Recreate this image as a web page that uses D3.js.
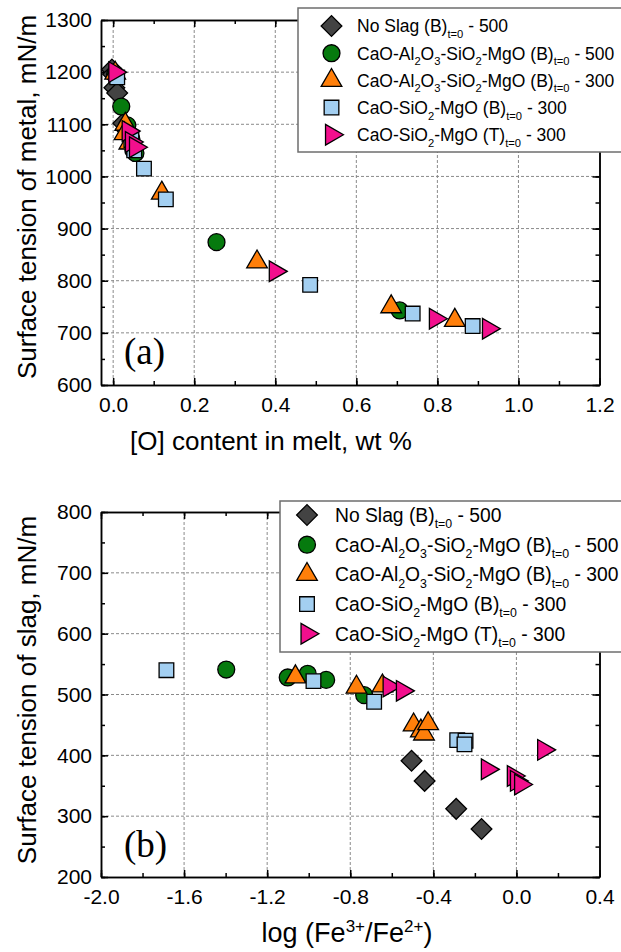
<!DOCTYPE html>
<html>
<head>
<meta charset="utf-8">
<script src="https://cdn.jsdelivr.net/npm/d3@7"></script>
<style>
  body { margin: 0; background: #fff; }
  svg { display: block; font-family: "Liberation Sans", Arial, sans-serif; }
  .grid line { stroke: #8a8a8a; stroke-width: 1; stroke-dasharray: 3,2; }
  .axis path, .axis line { stroke: #000; stroke-width: 1.5; }
  .axis text { font-size: 21px; fill: #000; }
  .mark { stroke: #000; stroke-width: 1.3; }
</style>
</head>
<body>
<div id="chart"></div>
<script>
// ---- panel (a): surface tension of metal vs [O] content, wt % ----
var metalNoSlag   = [[-0.003,1205],[0.0,1196],[0.003,1170],[0.01,1160],[0.025,1102],[0.032,1090]];
var metalCAS500   = [[0.005,1196],[0.02,1134],[0.035,1098],[0.045,1072],[0.05,1050],[0.055,1045],[0.255,874],[0.707,743]];
var metalCAS300   = [[0.005,1198],[0.03,1100],[0.028,1082],[0.04,1064],[0.12,968],[0.355,836],[0.686,750],[0.843,724]];
var metalCSM_B    = [[0.01,1190],[0.045,1070],[0.052,1050],[0.076,1015],[0.13,956],[0.486,792],[0.739,737],[0.887,713]];
var metalCSM_T    = [[0.004,1200],[0.037,1087],[0.045,1066],[0.055,1056],[0.4,818],[0.795,727],[0.926,708]];

// ---- panel (b): surface tension of slag vs log(Fe3+/Fe2+) ----
var slagNoSlag    = [[-0.505,391],[-0.442,358],[-0.29,312],[-0.168,279]];
var slagCAS500    = [[-1.397,541],[-1.101,528],[-1.005,534],[-0.916,524],[-0.733,499]];
var slagCAS300    = [[-1.064,529],[-0.77,512],[-0.645,514],[-0.495,450],[-0.46,440],[-0.445,435],[-0.425,452]];
var slagCSM_B     = [[-1.685,540],[-0.977,522],[-0.685,488],[-0.285,425],[-0.245,424],[-0.25,418]];
var slagCSM_T     = [[-0.613,513],[-0.549,506],[-0.14,377],[-0.015,366],[0.0,358],[0.02,352],[0.131,409]];

// legend labels: [text, "sub"] segments
var legendLabels = [
  [["No Slag (B)"],["t=0","sub"],[" - 500"]],
  [["CaO-Al"],["2","sub"],["O"],["3","sub"],["-SiO"],["2","sub"],["-MgO (B)"],["t=0","sub"],[" - 500"]],
  [["CaO-Al"],["2","sub"],["O"],["3","sub"],["-SiO"],["2","sub"],["-MgO (B)"],["t=0","sub"],[" - 300"]],
  [["CaO-SiO"],["2","sub"],["-MgO (B)"],["t=0","sub"],[" - 300"]],
  [["CaO-SiO"],["2","sub"],["-MgO (T)"],["t=0","sub"],[" - 300"]]
];

var topXTicks = [0.0, 0.2, 0.4, 0.6, 0.8, 1.0, 1.2];
var topYTicks = [600, 700, 800, 900, 1000, 1100, 1200, 1300];
var botXTicks = [-2.0, -1.6, -1.2, -0.8, -0.4, 0.0, 0.4];
var botYTicks = [200, 300, 400, 500, 600, 700, 800];

// marker styles per series (legend order)
var seriesStyle = [
  {shape: "diamond", fill: "#434343"},
  {shape: "circle",  fill: "#067a0e"},
  {shape: "triUp",   fill: "#ff7f0a"},
  {shape: "square",  fill: "#a3cff1"},
  {shape: "triRight",fill: "#f20f8d"}
];

var W = 621, H = 952;
var svg = d3.select("#chart").append("svg")
    .attr("width", W).attr("height", H);

function markerPath(shape) {
  if (shape === "diamond") return d3.symbol(d3.symbolSquare, 215)();
  if (shape === "circle") return d3.symbol(d3.symbolCircle, 225)();
  if (shape === "square") return d3.symbol(d3.symbolSquare, 215)();
  return d3.symbol(d3.symbolTriangle, 185)();
}
function markerRot(shape) {
  if (shape === "diamond") return 45;
  if (shape === "triRight") return 90;
  return 0;
}

function drawLegend(g, x0, y0, w, h, symX, textX, rowY, step, fs) {
  g.append("rect")
      .attr("x", x0).attr("y", y0).attr("width", w).attr("height", h)
      .attr("fill", "#fff").attr("stroke", "#6e6e6e").attr("stroke-width", 1.5);
  legendLabels.forEach(function(parts, i) {
    var cy = rowY + i * step, st = seriesStyle[i];
    g.append("path")
        .attr("class", "mark")
        .attr("d", markerPath(st.shape))
        .attr("fill", st.fill)
        .attr("transform", "translate(" + symX + "," + cy + ") rotate(" + markerRot(st.shape) + ")");
    var t = g.append("text")
        .attr("x", textX).attr("y", cy + fs * 0.36)
        .attr("font-size", fs);
    var shift = 0;
    parts.forEach(function(p) {
      var isSub = p[1] === "sub";
      var target = isSub ? fs * 0.32 : 0;
      t.append("tspan")
          .attr("dy", target - shift)
          .attr("font-size", isSub ? fs * 0.64 : fs)
          .text(p[0]);
      shift = target;
    });
  });
}

function drawPanel(o) {
  var x = d3.scaleLinear().domain(o.xDomain).range([101, 599.5]);
  var y = d3.scaleLinear().domain(o.yDomain).range([o.bottom, o.top]);
  var g = svg.append("g");

  // grid
  var grid = g.append("g").attr("class", "grid");
  grid.selectAll(".gx").data(o.xTicks.filter(function(d) { return x(d) > 102 && x(d) < 598; }))
    .enter().append("line")
      .attr("x1", function(d) { return x(d); }).attr("x2", function(d) { return x(d); })
      .attr("y1", o.top).attr("y2", o.bottom);
  grid.selectAll(".gy").data(o.yTicks.filter(function(d) { return d > o.yDomain[0] && d < o.yDomain[1]; }))
    .enter().append("line")
      .attr("y1", function(d) { return y(d); }).attr("y2", function(d) { return y(d); })
      .attr("x1", 101).attr("x2", 599.5);

  // minor ticks, pointing inward
  function addMinor(axisFn, scale, ticks, transform) {
    var a = axisFn(scale).tickValues(ticks).tickSizeInner(-4).tickSizeOuter(0).tickFormat("");
    g.append("g").attr("class", "axis").attr("transform", transform).call(a);
  }
  var xMinor = d3.range(o.xTicks[0], o.xTicks[o.xTicks.length - 1] + 1e-9, o.xMinor);
  var yMinor = d3.range(o.yDomain[0], o.yDomain[1] + 1e-9, 50);
  addMinor(d3.axisBottom, x, xMinor, "translate(0," + o.bottom + ")");
  addMinor(d3.axisTop, x, xMinor, "translate(0," + o.top + ")");
  addMinor(d3.axisLeft, y, yMinor, "translate(101,0)");
  addMinor(d3.axisRight, y, yMinor, "translate(599.5,0)");

  // major ticks
  var xb = d3.axisBottom(x).tickValues(o.xTicks).tickSizeInner(-7).tickSizeOuter(0)
      .tickPadding(12).tickFormat(function(d) { return d3.format(".1f")(d).replace("\u2212", "-"); });
  g.append("g").attr("class", "axis").attr("transform", "translate(0," + o.bottom + ")").call(xb);
  g.append("g").attr("class", "axis").attr("transform", "translate(0," + o.top + ")")
    .call(d3.axisTop(x).tickValues(o.xTicks).tickSizeInner(-7).tickSizeOuter(0).tickFormat(""));
  var yl = d3.axisLeft(y).tickValues(o.yTicks).tickSizeInner(-7).tickSizeOuter(0)
      .tickPadding(9).tickFormat(d3.format("d"));
  g.append("g").attr("class", "axis").attr("transform", "translate(101,0)").call(yl);
  g.append("g").attr("class", "axis").attr("transform", "translate(599.5,0)")
    .call(d3.axisRight(y).tickValues(o.yTicks).tickSizeInner(-7).tickSizeOuter(0).tickFormat(""));

  // data marks
  o.series.forEach(function(data, i) {
    var st = seriesStyle[i];
    g.append("g").selectAll("path").data(data).enter().append("path")
        .attr("class", "mark")
        .attr("d", markerPath(st.shape))
        .attr("fill", st.fill)
        .attr("transform", function(d) {
          return "translate(" + x(d[0]) + "," + y(d[1]) + ") rotate(" + markerRot(st.shape) + ")";
        });
  });

  // panel letter
  g.append("text").attr("x", 124).attr("y", o.letterY)
      .attr("font-family", "'Liberation Serif', 'Times New Roman', serif")
      .attr("font-size", 37).text(o.letter);

  // y title
  g.append("text")
      .attr("transform", "translate(36," + o.yTitleY + ") rotate(-90)")
      .attr("text-anchor", "middle").attr("font-size", 26)
      .text(o.yTitle);

  return g;
}

var gA = drawPanel({
  xDomain: [-0.03, 1.2], yDomain: [600, 1300], top: 20, bottom: 385,
  xTicks: topXTicks, yTicks: topYTicks, xMinor: 0.1,
  series: [metalNoSlag, metalCAS500, metalCAS300, metalCSM_B, metalCSM_T],
  letter: "(a)", letterY: 364,
  yTitle: "Surface tension of metal, mN/m", yTitleY: 197
});
gA.append("text").attr("x", 271).attr("y", 450).attr("text-anchor", "middle")
    .attr("font-size", 26).text("[O] content in melt, wt %");
drawLegend(gA, 298, 8, 340, 144, 331.5, 357, 26, 27.2, 17.5);

var gB = drawPanel({
  xDomain: [-2.0, 0.4], yDomain: [200, 800], top: 512, bottom: 877,
  xTicks: botXTicks, yTicks: botYTicks, xMinor: 0.2,
  series: [slagNoSlag, slagCAS500, slagCAS300, slagCSM_B, slagCSM_T],
  letter: "(b)", letterY: 857,
  yTitle: "Surface tension of slag, mN/m", yTitleY: 690
});
var xt = gB.append("text").attr("x", 347).attr("y", 942).attr("text-anchor", "middle")
    .attr("font-size", 27);
xt.append("tspan").text("log (Fe");
xt.append("tspan").attr("font-size", 17).attr("dy", -10).text("3+");
xt.append("tspan").attr("dy", 10).text("/Fe");
xt.append("tspan").attr("font-size", 17).attr("dy", -10).text("2+");
xt.append("tspan").attr("dy", 10).text(")");
drawLegend(gB, 280, 501, 360, 151, 307, 335, 515, 29.7, 19.3);
</script>
</body>
</html>
